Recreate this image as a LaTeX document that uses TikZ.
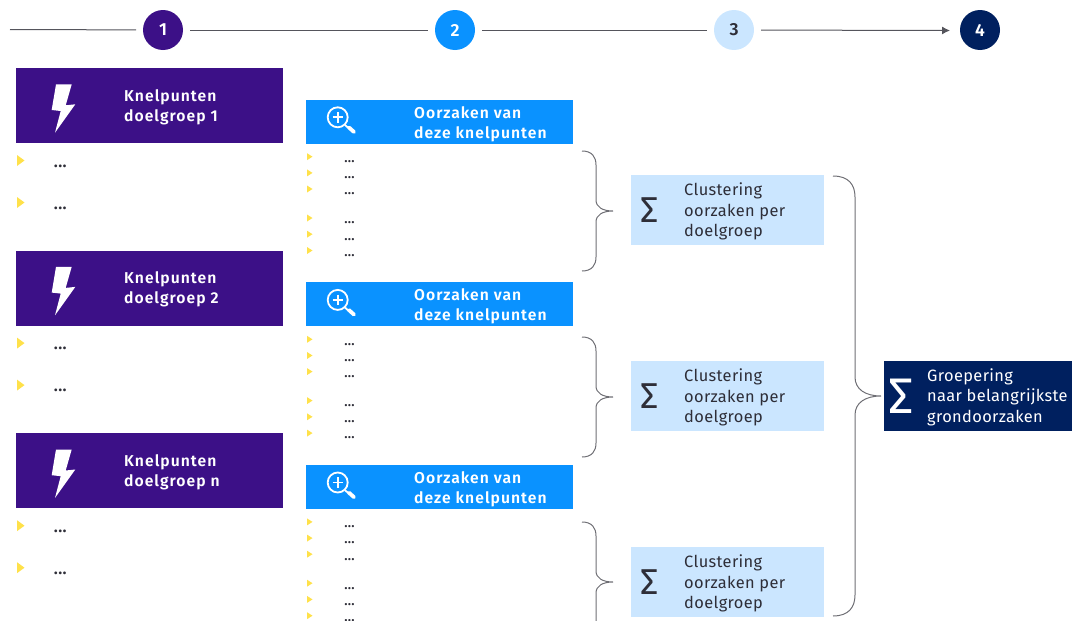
\documentclass[tikz,border=0pt]{standalone}
\usetikzlibrary{arrows.meta}
\usepackage{fontspec}
\setmainfont{Fira Sans}
\newfontfamily\boldspaced[LetterSpace=6.5,BoldFont={Fira Sans SemiBold}]{Fira Sans}
\newfontfamily\bodyspaced[LetterSpace=2.2]{Fira Sans}
\newfontfamily\dotsfont[LetterSpace=6]{Fira Sans ExtraBold}
\newfontfamily\digitfont[BoldFont={Fira Sans SemiBold}]{Fira Sans}
\definecolor{cPurple}{HTML}{3C1087}
\definecolor{cBlue}{HTML}{0A92FF}
\definecolor{cLight}{HTML}{CBE6FF}
\definecolor{cNavy}{HTML}{00205F}
\definecolor{cInk}{HTML}{2E2E38}
\definecolor{cLine}{HTML}{55555C}
\definecolor{cYellow}{HTML}{FFE14A}
\tikzset{
  x=1pt,y=-1pt,
  stepdot/.style={circle,minimum size=40pt,inner sep=0pt,outer sep=7pt,font=\fontsize{17.5}{20}\selectfont\digitfont\bfseries},
  timeline/.style={draw=cLine,line width=1pt},
  bracket/.style={draw=cLine!85,line width=1pt},
  painbar/.style={fill=cPurple,minimum width=267pt,minimum height=75pt,inner sep=0pt,outer sep=0pt},
  causebar/.style={fill=cBlue,minimum width=267pt,minimum height=44pt,inner sep=0pt,outer sep=0pt},
  clusterbar/.style={fill=cLight,minimum width=193pt,minimum height=70pt,inner sep=0pt,outer sep=0pt},
  topbar/.style={fill=cNavy,minimum width=188pt,minimum height=70pt,inner sep=0pt,outer sep=0pt},
  headtext/.style={anchor=west,align=left,text=white,inner sep=0pt,font=\fontsize{15.7}{20.2}\selectfont\boldspaced\bfseries},
  bodytext/.style={anchor=west,align=left,text=cInk,inner sep=0pt,font=\fontsize{16.4}{20.3}\selectfont\bodyspaced},
  navytext/.style={anchor=west,align=left,text=white,inner sep=0pt,font=\fontsize{16.4}{20.5}\selectfont\bodyspaced},
  sigmasmall/.style={text=cInk,inner sep=0pt,font=\fontsize{36}{36}\selectfont},
  sigmabig/.style={text=white,inner sep=0pt,font=\fontsize{50}{50}\selectfont},
  dotsbig/.style={anchor=base west,text=cInk,inner sep=0pt,font=\fontsize{14.5}{14}\selectfont\dotsfont},
  dotssmall/.style={anchor=base west,text=cInk,inner sep=0pt,font=\fontsize{11.5}{12}\selectfont\dotsfont},
}
% x0 xv xt ytop ymid ybot r1 r2
\newcommand{\mybrace}[8]{%
  \draw[bracket] (#1,#4) .. controls ({#1+0.7*(#2-#1)},#4) and (#2,{#4+0.4*#7}) .. (#2,{#4+#7})
    -- (#2,{#5-#8}) .. controls (#2,{#5-0.35*#8}) and ({#2+0.4*(#3-#2)},#5) .. (#3,#5)
    .. controls ({#2+0.4*(#3-#2)},#5) and (#2,{#5+0.35*#8}) .. (#2,{#5+#8})
    -- (#2,{#6-#7}) .. controls (#2,{#6-0.4*#7}) and ({#1+0.7*(#2-#1)},#6) .. (#1,#6);}
\newcommand{\tribig}[1]{\fill[cYellow] (17,{#1-5.5}) -- (24.5,#1) -- (17,{#1+5.5}) -- cycle;}
\newcommand{\trismall}[1]{\fill[cYellow] (307,{#1-3.5}) -- (312.5,#1) -- (307,{#1+3.5}) -- cycle;}
\begin{document}
\begin{tikzpicture}
\useasboundingbox (0,0) rectangle (1072,621);
\clip (0,0) rectangle (1072,621);
% timeline
\coordinate (tstart) at (10,29.5);
\coordinate (tend) at (950,30.5);
\node[stepdot,fill=cPurple,text=white] (s1) at (163,30) {1};
\node[stepdot,fill=cBlue,text=white] (s2) at (455,30) {2};
\node[stepdot,fill=cLight,text=cInk] (s3) at (734,30) {3};
\node[stepdot,fill=cNavy,text=white] (s4) at (980,30) {4};
\draw[timeline] (tstart) -- (s1);
\draw[timeline] (s1) -- (s2);
\draw[timeline] (s2) -- (s3);
\draw[timeline,-{Latex[length=8pt,width=8pt]}] (s3) -- (tend);
% three groups
\foreach \k/\off/\lab in {1/0/1,2/182.6/2,3/365.2/n}{
  \begin{scope}[yshift=-\off pt]
    % pain bar
    \node[painbar] (pain\k) at (149.5,105.5) {};
    \fill[white] (56,84.3) -- (71.7,84.3) -- (65.7,105.3) -- (75.3,104.3) -- (55,132.7) -- (60.7,111) -- (51.7,110) -- cycle;
    \node[headtext] (paint\k) at (124,107) {Knelpunten\\doelgroep \lab};
    \tribig{160.5}
    \tribig{202.5}
    \node[dotsbig] (pd\k a) at (54,167) {...};
    \node[dotsbig] (pd\k b) at (54,209) {...};
    % cause bar
    \node[causebar] (cause\k) at (439.5,121.5) {};
    \draw[white,line width=1.8pt] (337.7,117.3) circle (10);
    \draw[white,line width=1.7pt] (332.5,117.3) -- (343,117.3) (337.7,112) -- (337.7,122.6);
    \draw[white,line width=1.8pt] (345,125) -- (349,128.5);
    \draw[white,line width=3.8pt,line cap=round] (349,127.5) -- (354,132);
    \node[headtext] (causet\k) at (414,124) {Oorzaken van\\deze knelpunten};
    \foreach \y in {156.7,172.9,189,218,234.2,250.5}{\trismall{\y}}
    \foreach \y [count=\j] in {162.5,178.7,194.8,223.8,240,256.3}{\node[dotssmall] (cd\k-\j) at (344.5,\y) {...};}
  \end{scope}
}
% cluster bars
\foreach \k/\yy in {1/210,2/396,3/582}{
  \node[clusterbar] (cl\k) at (727.5,\yy) {};
  \node[sigmasmall] (sg\k) at (650,\yy) {Σ};
  \node[bodytext] (clt\k) at (684,{\yy+1.6}) {Clustering\\oorzaken per\\doelgroep};
}
% top bar
\node[topbar] (top) at (978,396) {};
\node[sigmabig] (sgt) at (901.5,396) {Σ};
\node[navytext] (topt) at (927,397.3) {Groepering\\naar belangrijkste\\grondoorzaken};
% brackets
\mybrace{582}{596}{613}{151}{211}{271}{14}{11}
\mybrace{582}{596}{613}{337}{397}{457}{14}{11}
\mybrace{582}{596}{613}{522}{582}{642}{14}{11}
\mybrace{833}{855}{881}{176}{396}{616}{21}{19}
\end{tikzpicture}
\end{document}
